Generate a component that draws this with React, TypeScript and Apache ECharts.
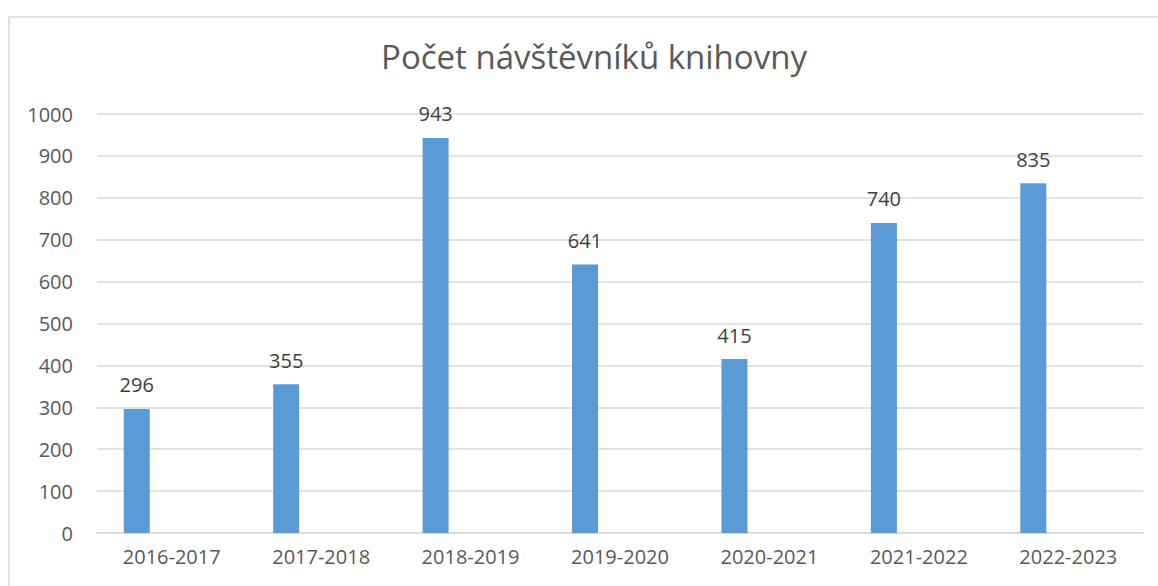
import React, { useEffect, useRef } from "react";
import * as echarts from "echarts";

const categories = ["2016-2017", "2017-2018", "2018-2019", "2019-2020", "2020-2021", "2021-2022", "2022-2023"];
const visitors = [296, 355, 943, 641, 415, 740, 835];
const emptySeries = [null, null, null, null, null, null, null];
const titleText = "Počet návštěvníků knihovny";

export default function App() {
  const ref = useRef<HTMLDivElement>(null);
  useEffect(() => {
    document.body.style.margin = "0";
    const chart = echarts.init(ref.current!, undefined, { renderer: "svg" });
    const font = "'Open Sans', sans-serif";
    chart.setOption({
      animation: false,
      backgroundColor: "#ffffff",
      title: {
        text: titleText,
        left: 589,
        textAlign: "center",
        top: 35,
        textStyle: { fontFamily: font, fontSize: 33, fontWeight: "normal", color: "#595959" },
      },
      graphic: [
        {
          type: "rect",
          shape: { x: 9, y: 17, width: 1170, height: 600 },
          style: { fill: "none", stroke: "#D9D9D9", lineWidth: 1.5 },
          silent: true,
        },
      ],
      grid: { left: 97, right: 15, top: 114, bottom: 53, containLabel: false },
      xAxis: {
        type: "category",
        data: categories,
        axisLine: { show: true, lineStyle: { color: "#D9D9D9", width: 1.5 } },
        axisTick: { show: false },
        axisLabel: { color: "#595959", fontFamily: font, fontSize: 20, margin: 13 },
      },
      yAxis: {
        type: "value",
        min: 0,
        max: 1000,
        interval: 100,
        axisLine: { show: false },
        axisTick: { show: false },
        splitLine: { lineStyle: { color: "#D9D9D9", width: 1.5 } },
        axisLabel: {
          color: "#595959",
          fontFamily: font,
          fontSize: 20,
          margin: 24,
          formatter: (v: number) => String(v),
        },
      },
      series: [
        {
          type: "bar",
          data: visitors,
          barWidth: 26,
          barGap: "169%",
          itemStyle: { color: "#5B9BD5" },
          label: {
            show: true,
            position: "top",
            distance: 14,
            color: "#404040",
            fontFamily: font,
            fontSize: 20,
          },
        },
        {
          type: "bar",
          data: emptySeries,
          barWidth: 26,
          itemStyle: { color: "#ED7D31" },
        },
      ],
    });
    return () => chart.dispose();
  }, []);
  return <div ref={ref} style={{ width: 1158, height: 586 }} />;
}
